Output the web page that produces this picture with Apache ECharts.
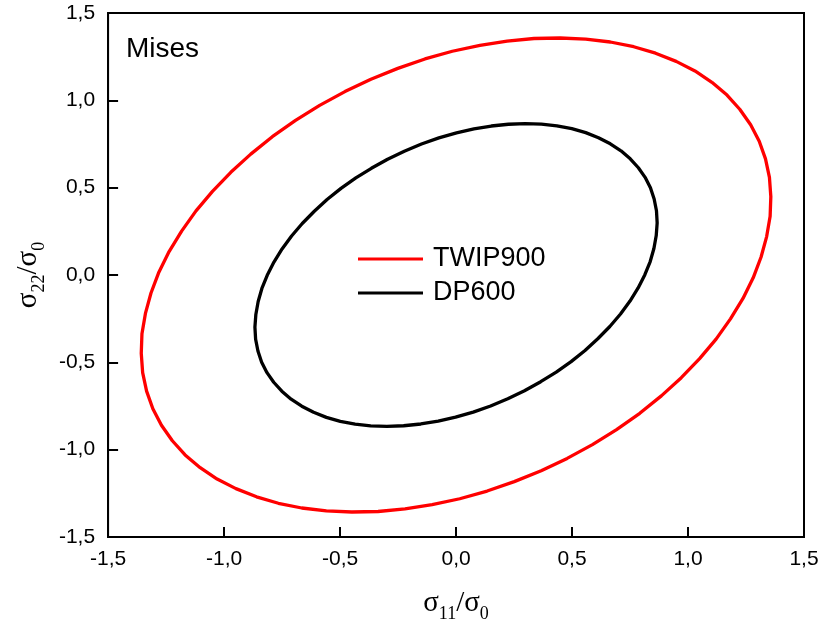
<!DOCTYPE html>
<html>
<head>
<meta charset="utf-8">
<script src="https://cdn.jsdelivr.net/npm/echarts@6/dist/echarts.min.js"></script>
<style>html,body{margin:0;padding:0;background:#fff;}#c{width:822px;height:628px;}</style>
</head>
<body>
<div id="c"></div>
<script>
// Tick labels (comma decimal, as in the reference)
const xTickLabels = ['-1,5', '-1,0', '-0,5', '0,0', '0,5', '1,0', '1,5'];
const yTickLabels = ['-1,5', '-1,0', '-0,5', '0,0', '0,5', '1,0', '1,5'];
const tickValues = [-1.5, -1.0, -0.5, 0.0, 0.5, 1.0, 1.5];

const seriesNames = ['TWIP900', 'DP600'];

// TWIP900 yield locus [σ11/σ0, σ22/σ0]
const twip900 = [
  [1.103, 1.103], [1.168, 1.030], [1.223, 0.949], [1.270, 0.860], [1.307, 0.766], [1.334, 0.665],
  [1.351, 0.559], [1.357, 0.449], [1.354, 0.336], [1.339, 0.220], [1.315, 0.103], [1.281, -0.016],
  [1.237, -0.134], [1.183, -0.251], [1.121, -0.367], [1.050, -0.479], [0.971, -0.588], [0.885, -0.692],
  [0.792, -0.792], [0.692, -0.885], [0.588, -0.971], [0.479, -1.050], [0.367, -1.121], [0.251, -1.183],
  [0.134, -1.237], [0.016, -1.281], [-0.103, -1.315], [-0.220, -1.339], [-0.336, -1.354], [-0.449, -1.357],
  [-0.559, -1.351], [-0.665, -1.334], [-0.766, -1.307], [-0.860, -1.270], [-0.949, -1.223], [-1.030, -1.168],
  [-1.103, -1.103], [-1.168, -1.030], [-1.223, -0.949], [-1.270, -0.860], [-1.307, -0.766], [-1.334, -0.665],
  [-1.351, -0.559], [-1.357, -0.449], [-1.354, -0.336], [-1.339, -0.220], [-1.315, -0.103], [-1.281, 0.016],
  [-1.237, 0.134], [-1.183, 0.251], [-1.121, 0.367], [-1.050, 0.479], [-0.971, 0.588], [-0.885, 0.692],
  [-0.792, 0.792], [-0.692, 0.885], [-0.588, 0.971], [-0.479, 1.050], [-0.367, 1.121], [-0.251, 1.183],
  [-0.134, 1.237], [-0.016, 1.281], [0.103, 1.315], [0.220, 1.339], [0.336, 1.354], [0.449, 1.357],
  [0.559, 1.351], [0.665, 1.334], [0.766, 1.307], [0.860, 1.270], [0.949, 1.223], [1.030, 1.168],
  [1.103, 1.103]
];

// DP600 yield locus [σ11/σ0, σ22/σ0]
const dp600 = [
  [0.711, 0.711], [0.751, 0.665], [0.786, 0.614], [0.815, 0.559], [0.838, 0.499], [0.854, 0.435],
  [0.864, 0.368], [0.867, 0.298], [0.863, 0.226], [0.853, 0.152], [0.837, 0.077], [0.814, 0.002],
  [0.785, -0.074], [0.750, -0.149], [0.709, -0.223], [0.663, -0.295], [0.611, -0.365], [0.556, -0.432],
  [0.496, -0.496], [0.432, -0.556], [0.365, -0.611], [0.295, -0.663], [0.223, -0.709], [0.149, -0.750],
  [0.074, -0.785], [-0.002, -0.814], [-0.077, -0.837], [-0.152, -0.853], [-0.226, -0.863], [-0.298, -0.867],
  [-0.368, -0.864], [-0.435, -0.854], [-0.499, -0.838], [-0.559, -0.815], [-0.614, -0.786], [-0.665, -0.751],
  [-0.711, -0.711], [-0.751, -0.665], [-0.786, -0.614], [-0.815, -0.559], [-0.838, -0.499], [-0.854, -0.435],
  [-0.864, -0.368], [-0.867, -0.298], [-0.863, -0.226], [-0.853, -0.152], [-0.837, -0.077], [-0.814, -0.002],
  [-0.785, 0.074], [-0.750, 0.149], [-0.709, 0.223], [-0.663, 0.295], [-0.611, 0.365], [-0.556, 0.432],
  [-0.496, 0.496], [-0.432, 0.556], [-0.365, 0.611], [-0.295, 0.663], [-0.223, 0.709], [-0.149, 0.750],
  [-0.074, 0.785], [0.002, 0.814], [0.077, 0.837], [0.152, 0.853], [0.226, 0.863], [0.298, 0.867],
  [0.368, 0.864], [0.435, 0.854], [0.499, 0.838], [0.559, 0.815], [0.614, 0.786], [0.665, 0.751],
  [0.711, 0.711]
];

const sansFont = 'Arial, "Liberation Sans", sans-serif';
const serifFont = '"Times New Roman", "Liberation Serif", serif';

function tickFmt(labels) {
  return function (v) {
    for (let i = 0; i < tickValues.length; i++) {
      if (Math.abs(tickValues[i] - v) < 1e-6) return labels[i];
    }
    return '';
  };
}

const nameRich = {
  s: { fontFamily: serifFont, fontSize: 29, color: '#000', lineHeight: 30 },
  b: { fontFamily: serifFont, fontSize: 18, color: '#000', lineHeight: 18, padding: [22, 0, 0, 0] }
};

const chart = echarts.init(document.getElementById('c'), null, { renderer: 'canvas' });
chart.setOption({
  animation: false,
  backgroundColor: '#fff',
  grid: {
    left: 105, right: 18, top: 13, bottom: 90,
    show: true, borderColor: '#000', borderWidth: 2, backgroundColor: 'transparent'
  },
  xAxis: {
    type: 'value', min: -1.5, max: 1.5, interval: 0.5,
    name: '{s|σ}{b|11}{s|/σ}{b|0}',
    nameLocation: 'middle', nameGap: 51,
    nameTextStyle: { rich: nameRich },
    axisLine: { show: true, onZero: false, lineStyle: { color: '#000', width: 2 } },
    axisTick: { show: true, inside: true, length: 10, lineStyle: { color: '#000', width: 2 } },
    axisLabel: { formatter: tickFmt(xTickLabels), color: '#000', fontSize: 21, fontFamily: sansFont, margin: 12, showMinLabel: true, showMaxLabel: true },
    splitLine: { show: false }
  },
  yAxis: {
    type: 'value', min: -1.5, max: 1.5, interval: 0.5,
    name: '{s|σ}{b|22}{s|/σ}{b|0}',
    nameLocation: 'middle', nameGap: 58,
    nameTextStyle: { rich: nameRich },
    axisLine: { show: true, onZero: false, lineStyle: { color: '#000', width: 2 } },
    axisTick: { show: true, inside: true, length: 10, lineStyle: { color: '#000', width: 2 } },
    axisLabel: { formatter: tickFmt(yTickLabels), color: '#000', fontSize: 21, fontFamily: sansFont, margin: 13, showMinLabel: true, showMaxLabel: true },
    splitLine: { show: false }
  },
  legend: {
    orient: 'vertical', left: 358, top: 244, padding: 0,
    icon: 'rect', itemWidth: 65, itemHeight: 3, itemGap: 4,
    textStyle: { color: '#000', fontSize: 27, fontFamily: sansFont, lineHeight: 30, padding: [0, 0, 0, 5] },
    data: seriesNames
  },
  graphic: [{
    type: 'text', left: 126, top: 35,
    style: { text: 'Mises', font: '28px Arial, "Liberation Sans", sans-serif', fill: '#000' }
  }],
  series: [
    {
      name: seriesNames[0], type: 'line', data: twip900, smooth: false,
      showSymbol: false, color: '#ff0000',
      lineStyle: { color: '#ff0000', width: 3.3, join: 'round' }
    },
    {
      name: seriesNames[1], type: 'line', data: dp600, smooth: false,
      showSymbol: false, color: '#000000',
      lineStyle: { color: '#000000', width: 3.3, join: 'round' }
    }
  ]
});
</script>
</body>
</html>
